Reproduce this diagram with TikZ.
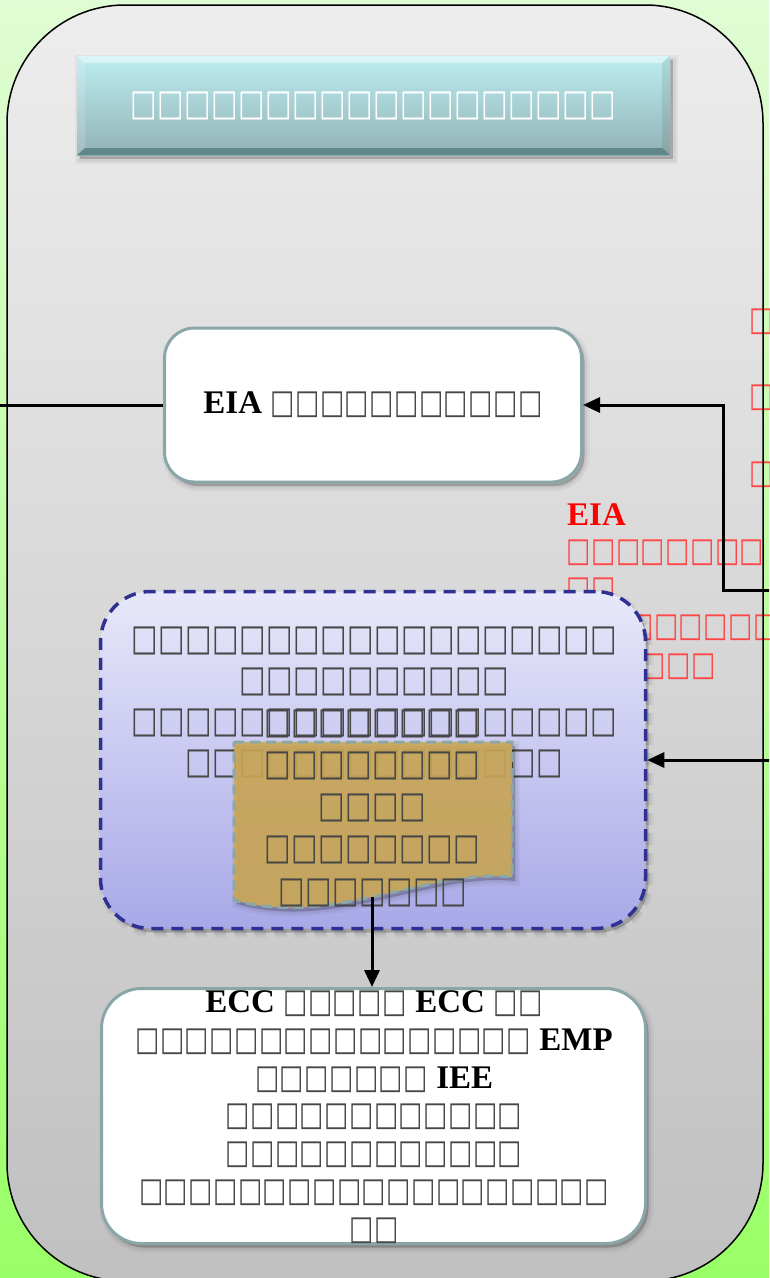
\documentclass[tikz,border=0pt]{standalone}
\usepackage{fontspec}
\usepackage{graphicx}
\setmainfont{Liberation Serif}
\newfontfamily\sqf{DejaVu Sans}
\usetikzlibrary{arrows.meta}
\newcommand\sqbox{\makebox[0.75em]{\color{.!72}\scalebox{0.78}[1.02]{\sqf □}}}
\ExplSyntaxOn
\NewDocumentCommand\tf{m}{\prg_replicate:nn{#1}{\sqbox}}
\ExplSyntaxOff
\definecolor{bgtop}{RGB}{224,252,212}
\definecolor{bgbot}{RGB}{153,255,102}
\definecolor{paneltop}{RGB}{237,237,237}
\definecolor{panelbot}{RGB}{192,192,192}
\definecolor{tealedge}{RGB}{139,166,169}
\definecolor{titletop}{RGB}{188,237,240}
\definecolor{titlebot}{RGB}{146,178,181}
\definecolor{lavtop}{RGB}{232,232,250}
\definecolor{lavbot}{RGB}{168,168,232}
\definecolor{dashblue}{RGB}{46,49,146}
\definecolor{tanfill}{RGB}{203,168,86}
\definecolor{docedge}{RGB}{140,168,164}
\tikzset{
  softshadow/.style={
    preaction={fill=black,draw=black,opacity=0.04,line width=10pt,transform canvas={xshift=3pt,yshift=-4pt}},
    preaction={fill=black,draw=black,opacity=0.06,line width=5pt,transform canvas={xshift=3pt,yshift=-4pt}},
    preaction={fill=black,opacity=0.12,transform canvas={xshift=3pt,yshift=-4pt}}},
  whitebox/.style={draw=tealedge,line width=3pt,fill=white,softshadow,inner sep=0pt},
  txt33/.style={font=\fontsize{33}{37.8}\selectfont,align=center,text=black,inner sep=0pt},
  txt36/.style={font=\fontsize{36}{41}\selectfont,align=center,text=black,inner sep=0pt},
  redt/.style={font=\fontsize{33}{38}\selectfont,text=red,inner sep=0pt},
  conn/.style={line width=3pt,black},
  arr/.style={conn,-{Triangle[length=17pt,width=15pt]}}
}
\begin{document}
\begin{tikzpicture}[x=1pt,y=-1pt]
\useasboundingbox (0,0) rectangle (769,1278);
\clip (0,0) rectangle (769,1278);
% background
\shade[top color=bgtop,bottom color=bgbot] (0,0) rectangle (769,1278);
% panel
\shade[top color=paneltop,bottom color=panelbot,rounded corners=118pt] (7,5) rectangle (763,1281);
% title
\node[softshadow,top color=titletop,bottom color=titlebot,minimum width=593pt,minimum height=99pt,inner sep=0pt,
      font=\fontsize{36}{40}\selectfont,text=white] (title) at (373.5,105.5) {\tf{18}};
\fill[white,opacity=0.45] (77,56) -- (670,56) -- (662,63) -- (85,63) -- cycle;
\fill[white,opacity=0.15] (77,56) -- (85,63) -- (85,148) -- (77,155) -- cycle;
\fill[black,opacity=0.08] (670,56) -- (662,63) -- (662,148) -- (670,155) -- cycle;
\fill[black!60!teal,opacity=0.35] (77,155) -- (670,155) -- (662,148) -- (85,148) -- cycle;
% red text (behind the dashed box)
\node[redt] (r1a) at (761.5,322) {\tf{1}};
\node[redt] (r1b) at (761.5,398) {\tf{1}};
\node[redt] (r1c) at (761.5,475) {\tf{1}};
\node[redt,font=\fontsize{33}{38}\selectfont\bfseries,anchor=base west] (reia) at (567,525) {EIA};
\node[redt] (r2a) at (665.5,553) {\tf{8}};
\node[redt] (r2b) at (591,591) {\tf{2}};
\node[redt] (r3a) at (703.5,628) {\tf{6}};
\node[redt] (r3b) at (678.5,667) {\tf{3}};
% EIA box
\node[whitebox,rounded corners=30pt,minimum width=417pt,minimum height=154pt,txt33] (eia) at (373,405)
  {\textbf{EIA} \tf{11}};
% middle dashed box
\node[softshadow,top color=lavtop,bottom color=lavbot,draw=dashblue,line width=3.5pt,dash pattern=on 12pt off 8pt,
      rounded corners=50pt,minimum width=545pt,minimum height=337pt,inner sep=0pt] (mid) at (373,760) {};
\node[txt36] (midtxt) at (374,702) {\tf{18}\\\tf{10}\\\tf{18}\\\tf{14}};
% document shape
\path[softshadow,fill=tanfill,fill opacity=0.9,draw=docedge,line width=3pt,dash pattern=on 10pt off 6pt]
  (234,742) -- (512,742) -- (512,877) .. controls (430,868) and (330,928) .. (234,900) -- cycle;
\coordinate (docb) at (372,897);
\node[txt36,font=\fontsize{36}{42.25}\selectfont] (doctxt) at (372.5,808) {\tf{8}\\\tf{8}\\\tf{4}\\\tf{8}\\\tf{7}};
% ECC box
\node[whitebox,rounded corners=40pt,minimum width=544pt,minimum height=255pt] (ecc) at (373.5,1116) {};
\node[txt33] (ecctxt) at (374,1117)
  {\textbf{ECC} \tf{5} \textbf{ECC} \tf{2}\\
   \tf{16} \textbf{EMP}\\
   \tf{7} \textbf{IEE}\\
   \tf{12}\\
   \tf{12}\\
   \tf{19}\\
   \tf{2}};
% panel border on top
\draw[black,line width=1.5pt,rounded corners=118pt] (7,5) rectangle (763,1281);
% connectors
\coordinate (lft) at (-2,405);
\coordinate (rin1) at (771,590);
\coordinate (rin2) at (771,760);
\draw[conn] (eia.west) -- (lft);
\draw[arr] (rin1) -- (723,590) |- (eia.east);
\draw[arr] (rin2) -- (mid.east);
\draw[arr] (docb) -- (docb |- ecc.north);
\end{tikzpicture}
\end{document}
